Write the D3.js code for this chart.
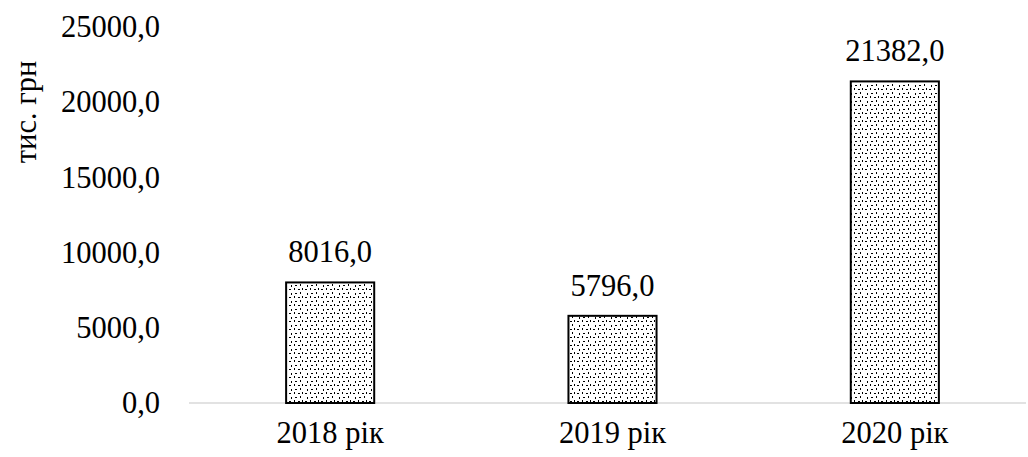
<!DOCTYPE html>
<html>
<head>
<meta charset="utf-8">
<script src="https://cdn.jsdelivr.net/npm/d3@7"></script>
<style>
  body { margin: 0; background: #fff; }
  text { font-family: "Liberation Serif", "Times New Roman", serif; fill: #000; }
</style>
</head>
<body>
<div id="chart"></div>
<script>
const categories = ["2018 рік", "2019 рік", "2020 рік"];
const values = [8016.0, 5796.0, 21382.0];
const yTicks = [0, 5000, 10000, 15000, 20000, 25000];
const yTitle = "тис. грн";

const width = 1028, height = 457;
const margin = { top: 27, right: -8, bottom: 54, left: 189 };
const fontSize = 30.5;
const fmt = v => v.toFixed(1).replace(".", ",");

const svg = d3.select("#chart").append("svg")
    .attr("width", width)
    .attr("height", height);

// dotted fill like the office pattern
const pat = svg.append("defs").append("pattern")
    .attr("id", "dots")
    .attr("patternUnits", "userSpaceOnUse")
    .attr("width", 16).attr("height", 8);
pat.append("rect").attr("width", 16).attr("height", 8).attr("fill", "#fff");
[[1, 1, 2, 1], [6, 0, 1, 2], [10, 1, 2, 1], [14, 0, 1, 2],
 [3, 5, 1, 2], [7, 5, 2, 1], [12, 4, 1, 2]].forEach(([x, y, w, h]) =>
    pat.append("rect").attr("x", x).attr("y", y).attr("width", w).attr("height", h).attr("fill", "#000"));

const x = d3.scaleBand()
    .domain(categories)
    .range([margin.left, width - margin.right])
    .paddingInner(0.688)
    .paddingOuter(0.344);

const y = d3.scaleLinear()
    .domain([0, 25000])
    .range([height - margin.bottom, margin.top]);

// baseline
svg.append("line")
    .attr("x1", margin.left).attr("x2", width - 2)
    .attr("y1", y(0)).attr("y2", y(0))
    .attr("stroke", "#d9d9d9").attr("stroke-width", 1.5);

// y tick labels
const yAxis = svg.append("g")
    .attr("transform", `translate(${margin.left - 29}, 0)`)
    .call(d3.axisLeft(y).tickValues(yTicks).tickFormat(fmt).tickSize(0).tickPadding(0));
yAxis.select(".domain").remove();
yAxis.selectAll("text")
    .attr("font-size", fontSize);

// x tick labels
const xAxis = svg.append("g")
    .attr("transform", `translate(0, ${y(0)})`)
    .call(d3.axisBottom(x).tickSize(0).tickPadding(18));
xAxis.select(".domain").remove();
xAxis.selectAll("text")
    .attr("font-size", fontSize);

// bars
svg.append("g").selectAll("rect")
    .data(values)
    .join("rect")
    .attr("x", (d, i) => x(categories[i]))
    .attr("y", d => y(d))
    .attr("width", x.bandwidth())
    .attr("height", d => y(0) - y(d))
    .attr("fill", "url(#dots)")
    .attr("stroke", "#000")
    .attr("stroke-width", 2);

// value labels
svg.append("g").selectAll("text")
    .data(values)
    .join("text")
    .attr("x", (d, i) => x(categories[i]) + x.bandwidth() / 2)
    .attr("y", d => y(d) - 20)
    .attr("text-anchor", "middle")
    .attr("font-size", fontSize)
    .text(fmt);

// y axis title
svg.append("text")
    .attr("transform", "translate(36, 112) rotate(-90)")
    .attr("text-anchor", "middle")
    .attr("font-size", fontSize)
    .text(yTitle);
</script>
</body>
</html>
